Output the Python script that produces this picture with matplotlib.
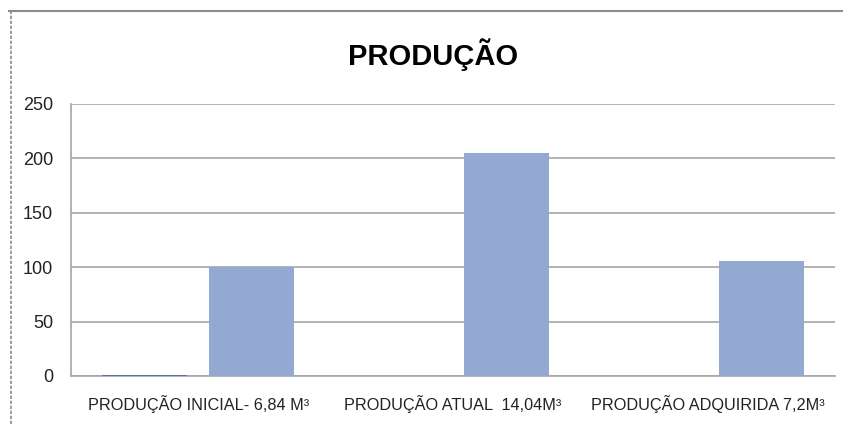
import matplotlib
matplotlib.use("Agg")
import matplotlib.pyplot as plt
import numpy as np
from matplotlib.lines import Line2D

plt.rcParams['font.family'] = ['Liberation Sans Narrow', 'Liberation Sans', 'DejaVu Sans']

title = "PRODUÇÃO"
categories = ["PRODUÇÃO INICIAL- 6,84 M³", "PRODUÇÃO ATUAL  14,04M³", "PRODUÇÃO ADQUIRIDA 7,2M³"]
series1 = [1, 0, 0]
series2 = [100, 205, 106]
yticks = [0, 50, 100, 150, 200, 250]

fig = plt.figure(figsize=(8.43, 4.24), dpi=100)
ax = fig.add_axes([71/843, 48/424, 764/843, 272/424])

x = np.arange(len(categories))
w = 0.334
gap = 0.086
ax.bar(x - (w + gap)/2, series1, width=w, color='#5773AC', zorder=3)
ax.bar(x + (w + gap)/2, series2, width=w, color='#93A9D1', zorder=3)

ax.set_xlim(-0.5, len(categories) - 0.5)
ax.set_ylim(0, 250)
ax.set_yticks(yticks)
ax.set_yticklabels([str(t) for t in yticks], fontsize=13, color='#222222')
ax.set_xticks(x)
ax.set_xticklabels(categories, fontsize=11.7, color='#222222')
ax.tick_params(axis='both', length=0)
ax.tick_params(axis='y', pad=13)
ax.tick_params(axis='x', pad=14)
ax.grid(axis='y', color='#A6A6A6', linewidth=1.2, zorder=0)
for s in ['top', 'right']:
    ax.spines[s].set_visible(False)
ax.spines['left'].set_color('#A6A6A6')
ax.spines['bottom'].set_color('#A6A6A6')
ax.spines['left'].set_linewidth(1.2)
ax.spines['bottom'].set_linewidth(1.2)

fig.text(433/843, 1 - 55/424, title, fontsize=21, fontweight='bold', ha='center', va='center', color='black')

# chart border
fig.add_artist(Line2D([9/843, 1], [1 - 11/424, 1 - 11/424], transform=fig.transFigure, color='#8C8C8C', linewidth=1.5))
fig.add_artist(Line2D([11/843, 11/843], [0, 1 - 11/424], transform=fig.transFigure, color='#8C8C8C', linewidth=1.2, linestyle=(0, (2, 1))))

fig.savefig("out.png", dpi=100)
